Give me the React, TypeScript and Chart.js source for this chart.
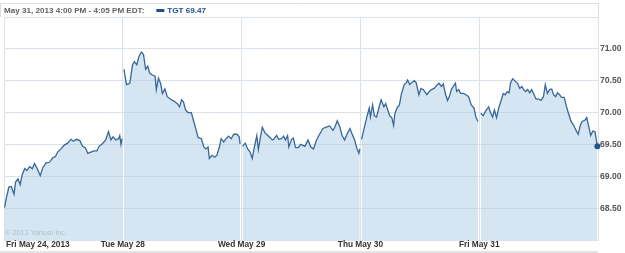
import React, { useEffect, useRef } from "react";
import { Chart, registerables } from "chart.js";

Chart.register(...registerables);

const dayLabels = ["Fri May 24, 2013", "Tue May 28", "Wed May 29", "Thu May 30", "Fri May 31"];
const headerText = "May 31, 2013 4:00 PM - 4:05 PM EDT:";
const legendText = "TGT 69.47";
const copyrightText = "\u00a9 2013 Yahoo! Inc.";
const sessionMinutes = 390;
const yMin = 68;
const yMax = 71.5;
const yStep = 0.5;

// minutes after the 9:30 open, and prices, per trading day
const fri24Minutes = [2, 8, 16, 24, 33, 38, 46, 53, 60, 68, 75, 84, 93, 100, 109, 119, 127, 138, 149, 160, 169, 176, 187, 198, 209, 220, 228, 238, 249, 258, 267, 275, 285, 296, 305, 312, 323, 334, 343, 351, 358, 367, 376, 380, 384, 388];
const fri24Prices = [68.51, 68.67, 68.83, 68.84, 68.72, 68.91, 68.96, 68.87, 69.03, 69.12, 69.09, 69.15, 69.12, 69.2, 69.12, 69.01, 69.13, 69.21, 69.22, 69.29, 69.31, 69.38, 69.43, 69.49, 69.52, 69.58, 69.55, 69.58, 69.56, 69.47, 69.45, 69.36, 69.38, 69.4, 69.4, 69.47, 69.51, 69.57, 69.7, 69.57, 69.62, 69.57, 69.59, 69.64, 69.5, 69.59];

const tue28Minutes = [4, 12, 23, 32, 38, 46, 53, 61, 68, 75, 82, 88, 97, 106, 110, 117, 124, 130, 138, 146, 157, 168, 179, 186, 193, 199, 206, 214, 225, 233, 241, 247, 258, 266, 273, 280, 284, 293, 302, 309, 317, 323, 331, 339, 347, 356, 364, 375, 382, 385];
const tue28Prices = [70.68, 70.44, 70.46, 70.75, 70.8, 70.75, 70.88, 70.95, 70.91, 70.68, 70.73, 70.62, 70.59, 70.57, 70.36, 70.54, 70.46, 70.3, 70.37, 70.25, 70.21, 70.18, 70.14, 70.09, 70.2, 70.17, 70.04, 70.0, 70.0, 69.86, 69.72, 69.61, 69.59, 69.46, 69.43, 69.46, 69.28, 69.33, 69.3, 69.33, 69.46, 69.59, 69.54, 69.59, 69.63, 69.59, 69.66, 69.66, 69.62, 69.51];

const wed29Minutes = [3, 12, 20, 28, 35, 42, 50, 55, 62, 68, 77, 86, 93, 101, 107, 115, 122, 131, 138, 144, 151, 155, 164, 170, 177, 186, 194, 208, 218, 227, 236, 246, 256, 267, 278, 289, 300, 306, 314, 322, 330, 338, 347, 356, 362, 371, 379, 385, 388];
const wed29Prices = [69.47, 69.52, 69.43, 69.38, 69.28, 69.46, 69.64, 69.42, 69.62, 69.77, 69.68, 69.64, 69.61, 69.57, 69.59, 69.64, 69.58, 69.59, 69.63, 69.57, 69.64, 69.46, 69.58, 69.6, 69.45, 69.45, 69.5, 69.47, 69.57, 69.46, 69.43, 69.57, 69.66, 69.75, 69.77, 69.79, 69.72, 69.77, 69.87, 69.78, 69.64, 69.57, 69.67, 69.75, 69.67, 69.57, 69.43, 69.36, 69.43];

const thu30Minutes = [4, 11, 20, 29, 33, 40, 46, 53, 59, 68, 77, 83, 90, 96, 103, 109, 113, 120, 128, 135, 144, 151, 155, 162, 168, 177, 183, 192, 199, 207, 218, 226, 233, 242, 251, 258, 266, 272, 280, 286, 292, 299, 305, 312, 316, 323, 329, 338, 347, 355, 364, 373, 379, 386];
const thu30Prices = [69.58, 69.73, 69.91, 70.07, 69.93, 70.12, 69.95, 69.93, 70.04, 70.2, 70.09, 70.14, 70.04, 69.95, 69.92, 69.8, 69.98, 70.07, 70.12, 70.3, 70.44, 70.47, 70.51, 70.44, 70.47, 70.5, 70.47, 70.28, 70.38, 70.36, 70.28, 70.33, 70.36, 70.38, 70.43, 70.46, 70.41, 70.45, 70.28, 70.19, 70.25, 70.37, 70.41, 70.46, 70.33, 70.36, 70.3, 70.3, 70.28, 70.25, 70.12, 70.07, 69.93, 69.86];

const fri31Minutes = [5, 13, 22, 31, 37, 44, 50, 57, 64, 72, 79, 85, 92, 98, 103, 110, 119, 126, 133, 140, 146, 153, 159, 166, 172, 179, 187, 195, 203, 211, 217, 224, 231, 238, 244, 251, 257, 264, 270, 279, 286, 293, 301, 310, 318, 325, 332, 338, 347, 353, 360, 366, 373, 380, 383, 388];
const fri31Prices = [69.99, 69.95, 70.03, 70.09, 70.0, 69.93, 70.04, 69.92, 70.07, 70.19, 70.3, 70.28, 70.33, 70.31, 70.47, 70.53, 70.49, 70.46, 70.38, 70.41, 70.36, 70.33, 70.36, 70.31, 70.36, 70.29, 70.21, 70.21, 70.19, 70.25, 70.44, 70.3, 70.36, 70.37, 70.28, 70.25, 70.31, 70.28, 70.24, 70.24, 70.1, 69.99, 69.87, 69.8, 69.72, 69.66, 69.8, 69.86, 69.88, 69.92, 69.77, 69.64, 69.71, 69.7, 69.62, 69.47];

const dayMinutes = [fri24Minutes, tue28Minutes, wed29Minutes, thu30Minutes, fri31Minutes];
const dayPrices = [fri24Prices, tue28Prices, wed29Prices, thu30Prices, fri31Prices];

const LINE = "#38689a";
const FILL = "rgba(171,204,228,0.5)";
const GRID = "#dae3ea";
const FONT = "'Liberation Sans', Arial, sans-serif";

const overlayPlugin = {
  id: "overlay",
  afterDraw(chart: any) {
    const ctx = chart.ctx;
    const x = chart.scales.x;
    const area = chart.chartArea;
    ctx.save();
    // header box
    ctx.strokeStyle = "#dedede";
    ctx.lineWidth = 1;
    ctx.beginPath();
    ctx.moveTo(0.5, area.top);
    ctx.lineTo(0.5, 3.5);
    ctx.lineTo(area.right + 0.5, 3.5);
    ctx.lineTo(area.right + 0.5, area.top);
    ctx.stroke();
    ctx.textBaseline = "alphabetic";
    ctx.textAlign = "left";
    ctx.font = `bold 8.1px ${FONT}`;
    ctx.fillStyle = "#626262";
    ctx.fillText(headerText, 4, 13);
    const w = ctx.measureText(headerText).width;
    ctx.fillStyle = "#1f4f8c";
    ctx.fillRect(4 + w + 12, 9, 8, 3);
    ctx.fillText(legendText, 4 + w + 23, 13);
    // copyright
    ctx.font = `7.3px ${FONT}`;
    ctx.fillStyle = "#b2c2ce";
    ctx.textBaseline = "middle";
    ctx.fillText(copyrightText, 5, 233);
    // x labels
    ctx.font = `bold 8.3px ${FONT}`;
    ctx.fillStyle = "#333333";
    dayLabels.forEach((label, i) => {
      ctx.textAlign = i === 0 ? "left" : "center";
      const px = x.getPixelForValue(i);
      ctx.fillText(label, i === 0 ? px + 2 : px, 245);
    });
    // bottom rule
    ctx.fillStyle = "#e4e4e4";
    ctx.fillRect(0, 251, area.right, 2);
    ctx.restore();
  },
};

export default function App() {
  const ref = useRef<HTMLCanvasElement>(null);
  useEffect(() => {
    if (!ref.current) return;
    const datasets = dayMinutes.map((mins, d) => {
      const isLast = d === dayMinutes.length - 1;
      return {
        data: mins.map((m, i) => ({ x: d + m / sessionMinutes, y: dayPrices[d][i] })),
        borderColor: LINE,
        borderWidth: 1.3,
        backgroundColor: FILL,
        fill: "start",
        tension: 0,
        clip: isLast ? false : undefined,
        pointRadius: (c: any) => (isLast && c.dataIndex === mins.length - 1 ? 3 : 0),
        pointBackgroundColor: "#24548a",
        pointBorderWidth: 0,
      };
    });
    const chart = new Chart(ref.current, {
      type: "line",
      data: { datasets: datasets as any },
      options: {
        animation: false,
        responsive: false,
        layout: { padding: { left: 1, top: 17, right: 0, bottom: 0 } },
        plugins: { legend: { display: false }, tooltip: { enabled: false } },
        scales: {
          x: {
            type: "linear",
            min: 0,
            max: dayLabels.length,
            ticks: { display: false, stepSize: 1 },
            grid: { color: GRID, drawTicks: false },
            border: { display: false },
            afterFit: (s: any) => {
              s.height = 13;
            },
          },
          y: {
            position: "right",
            min: yMin,
            max: yMax,
            ticks: {
              stepSize: yStep,
              padding: 2,
              color: "#555555",
              font: { family: FONT, size: 8.6, weight: "bold" },
              callback: (v: any) => (v <= yMin || v >= yMax - 0.01 ? "" : Number(v).toFixed(2)),
            },
            grid: { color: GRID, drawTicks: false },
            border: { display: true, color: GRID },
            afterFit: (s: any) => {
              s.width = 27;
            },
          },
        },
      },
      plugins: [overlayPlugin],
    });
    return () => chart.destroy();
  }, []);
  return (
    <div style={{ position: "fixed", left: 0, top: 0, width: 625, height: 253, background: "#fff" }}>
      <canvas ref={ref} width={625} height={253} style={{ width: 625, height: 253, display: "block" }} />
    </div>
  );
}
